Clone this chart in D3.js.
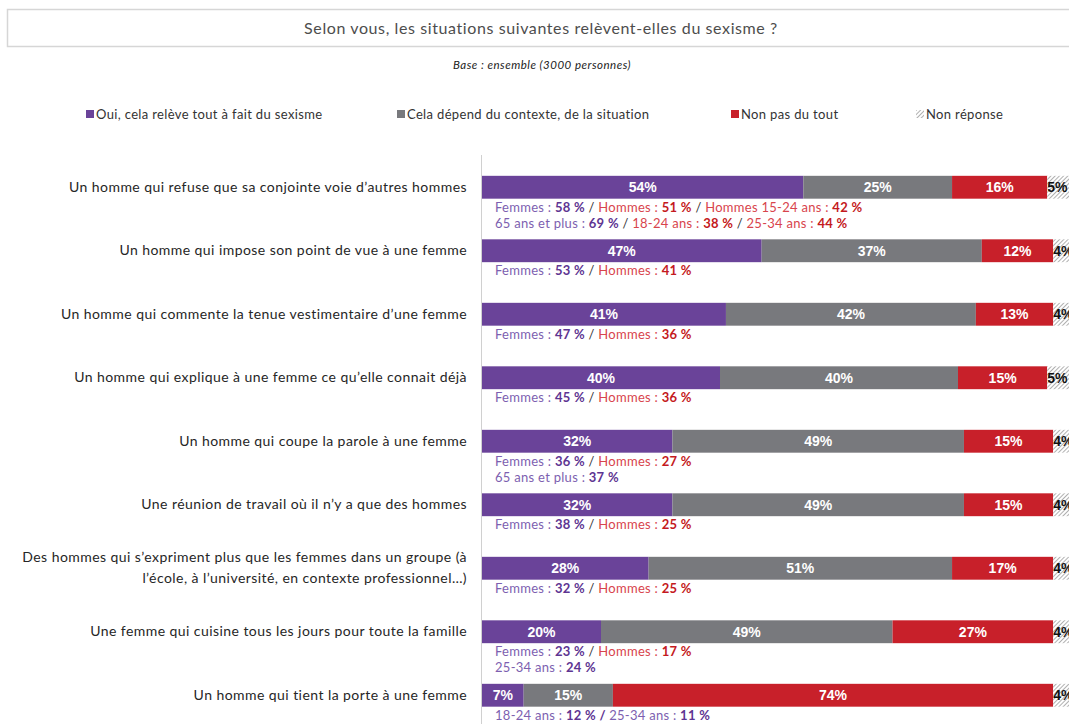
<!DOCTYPE html>
<html>
<head>
<meta charset="utf-8">
<script src="https://cdn.jsdelivr.net/npm/d3@7"></script>
<style>
  html, body { margin: 0; padding: 0; background: #fff; overflow: hidden; }
  svg { display: block; }
</style>
</head>
<body>
<svg id="chart" width="1069" height="724"></svg>
<script>
// ---------- DATA ----------
const title = "Selon vous, les situations suivantes relèvent-elles du sexisme ?";
const baseNote = "Base : ensemble (3000 personnes)";
const seriesNames = [
  "Oui, cela relève tout à fait du sexisme",
  "Cela dépend du contexte, de la situation",
  "Non pas du tout",
  "Non réponse"
];
const categories = [
  ["Un homme qui refuse que sa conjointe voie d’autres hommes"],
  ["Un homme qui impose son point de vue à une femme"],
  ["Un homme qui commente la tenue vestimentaire d’une femme"],
  ["Un homme qui explique à une femme ce qu’elle connait déjà"],
  ["Un homme qui coupe la parole à une femme"],
  ["Une réunion de travail où il n’y a que des hommes"],
  ["Des hommes qui s’expriment plus que les femmes dans un groupe (à", "l’école, à l’université, en contexte professionnel…)"],
  ["Une femme qui cuisine tous les jours pour toute la famille"],
  ["Un homme qui tient la porte à une femme"]
];
const oui      = [54, 47, 41, 40, 32, 32, 28, 20, 7];
const depend   = [25, 37, 42, 40, 49, 49, 51, 49, 15];
const nonPas   = [16, 12, 13, 15, 15, 15, 17, 27, 74];
const nonRep   = [5, 4, 4, 5, 4, 4, 4, 4, 4];

// annotation segments: [text, tone(p=purple,r=red,d=dark), bold]
const annotations = [
  [
    [["Femmes : ","p",0],["58 %","p",1],[" / ","d",0],["Hommes : ","r",0],["51 %","r",1],[" / ","d",0],["Hommes 15-24 ans : ","r",0],["42 %","r",1]],
    [["65 ans et plus : ","p",0],["69 %","p",1],[" / ","d",0],["18-24 ans : ","r",0],["38 %","r",1],[" / ","d",0],["25-34 ans : ","r",0],["44 %","r",1]]
  ],
  [[["Femmes : ","p",0],["53 %","p",1],[" / ","d",0],["Hommes : ","r",0],["41 %","r",1]]],
  [[["Femmes : ","p",0],["47 %","p",1],[" / ","d",0],["Hommes : ","r",0],["36 %","r",1]]],
  [[["Femmes : ","p",0],["45 %","p",1],[" / ","d",0],["Hommes : ","r",0],["36 %","r",1]]],
  [
    [["Femmes : ","p",0],["36 %","p",1],[" / ","d",0],["Hommes : ","r",0],["27 %","r",1]],
    [["65 ans et plus : ","p",0],["37 %","p",1]]
  ],
  [[["Femmes : ","p",0],["38 %","p",1],[" / ","d",0],["Hommes : ","r",0],["25 %","r",1]]],
  [[["Femmes : ","p",0],["32 %","p",1],[" / ","d",0],["Hommes : ","r",0],["25 %","r",1]]],
  [
    [["Femmes : ","p",0],["23 %","p",1],[" / ","d",0],["Hommes : ","r",0],["17 %","r",1]],
    [["25-34 ans : ","p",0],["24 %","p",1]]
  ],
  [[["18-24 ans : ","p",0],["12 % / ","p",1],["25-34 ans : ","p",0],["11 %","p",1]]]
];

// ---------- STYLE ----------
const colors = ["#6a4399", "#78797d", "#c8202a", "hatch"];
const toneColors = {
  p: { normal: "#7d5fb0", bold: "#5e3592" },
  r: { normal: "#d8444c", bold: "#c41920" },
  d: { normal: "#333333", bold: "#333333" }
};
const labelFont = "Lato, 'Noto Sans', sans-serif";
const valueFont = "'Liberation Sans', Arial, sans-serif";

const svg = d3.select("#chart");
const W = 1069, H = 724;

// hatch pattern
const defs = svg.append("defs");
const pat = defs.append("pattern")
  .attr("id", "hatch").attr("patternUnits", "userSpaceOnUse")
  .attr("width", 3).attr("height", 3)
  .attr("patternTransform", "rotate(45)");
pat.append("rect").attr("width", 3).attr("height", 3).attr("fill", "#ffffff");
pat.append("line").attr("x1", 0).attr("y1", 0).attr("x2", 0).attr("y2", 3)
  .attr("stroke", "#7a7a7a").attr("stroke-width", 1.2);

// title box
svg.append("rect").attr("x", 7.5).attr("y", 9.5).attr("width", W + 20).attr("height", 37)
  .attr("fill", "none").attr("stroke", "#d6d6d6").attr("stroke-width", 1.5);
svg.append("text").attr("x", 541).attr("y", 34).attr("text-anchor", "middle")
  .attr("font-family", labelFont).attr("font-size", 16).attr("letter-spacing", 0.6).attr("fill", "#4d4d4d")
  .text(title);
svg.append("text").attr("x", 542).attr("y", 69).attr("text-anchor", "middle")
  .attr("font-family", labelFont).attr("font-size", 11.5).attr("letter-spacing", 0.5)
  .attr("font-style", "italic").attr("fill", "#222")
  .text(baseNote);

// legend
const legendX = [86, 397, 731, 916];
const legend = svg.append("g").selectAll("g").data(seriesNames).join("g")
  .attr("transform", (d, i) => `translate(${legendX[i]},114)`);
legend.append("rect").attr("x", 0).attr("y", -4).attr("width", 8).attr("height", 8)
  .attr("fill", (d, i) => colors[i] === "hatch" ? "url(#hatch)" : colors[i]);
legend.append("text").attr("x", 10).attr("y", 4.5)
  .attr("font-family", labelFont).attr("font-size", 13).attr("letter-spacing", 0.35).attr("fill", "#333")
  .text(d => d);

// scales
const x0 = 482;
const x = d3.scaleLinear().domain([0, 100]).range([x0, x0 + 595]);
const y = d3.scaleBand().domain(d3.range(categories.length)).range([155.5, 155.5 + 63.5 * 9]).paddingInner(0.64).paddingOuter(0.32);

// axis line
svg.append("line").attr("x1", x0 - 0.5).attr("x2", x0 - 0.5).attr("y1", 155).attr("y2", H)
  .attr("stroke", "#d0d0d0").attr("stroke-width", 1);

// stacked data
const rows = categories.map((c, i) => ({ i, vals: [oui[i], depend[i], nonPas[i], nonRep[i]] }));
const g = svg.append("g");
rows.forEach(r => {
  let acc = 0;
  const by = y(r.i), bh = y.bandwidth();
  r.vals.forEach((v, k) => {
    const xs = x(acc), xe = x(acc + v);
    g.append("rect").attr("x", xs).attr("y", by).attr("width", xe - xs).attr("height", bh)
      .attr("fill", colors[k] === "hatch" ? "url(#hatch)" : colors[k]);
    if (k < 3) {
      g.append("text").attr("x", (xs + xe) / 2).attr("y", by + bh / 2 + 5)
        .attr("text-anchor", "middle").attr("font-family", valueFont).attr("font-weight", "bold")
        .attr("font-size", 14).attr("fill", "#ffffff").text(v + "%");
    } else {
      g.append("text").attr("x", xs).attr("y", by + bh / 2 + 5)
        .attr("text-anchor", "start").attr("font-family", valueFont).attr("font-weight", "bold")
        .attr("font-size", 14).attr("fill", "#111").text(v + "%");
    }
    acc += v;
  });

  // category label
  const lines = categories[r.i];
  const cy = by + bh / 2;
  const lh = 21;
  lines.forEach((ln, li) => {
    svg.append("text").attr("x", 467).attr("y", cy + (li - (lines.length - 1) / 2) * lh + 4.5)
      .attr("text-anchor", "end").attr("font-family", labelFont).attr("font-size", 14)
      .attr("letter-spacing", 0.44)
      .attr("fill", "#262626").text(ln);
  });

  // annotations
  annotations[r.i].forEach((segs, li) => {
    const t = svg.append("text").attr("x", 495).attr("y", by + bh + 13 + li * 16)
      .attr("font-family", labelFont).attr("font-size", 13).attr("letter-spacing", 0.28)
      .attr("xml:space", "preserve");
    segs.forEach(s => {
      t.append("tspan").text(s[0])
        .attr("font-weight", s[2] ? "bold" : "normal")
        .attr("fill", toneColors[s[1]][s[2] ? "bold" : "normal"]);
    });
  });
});
</script>
</body>
</html>
